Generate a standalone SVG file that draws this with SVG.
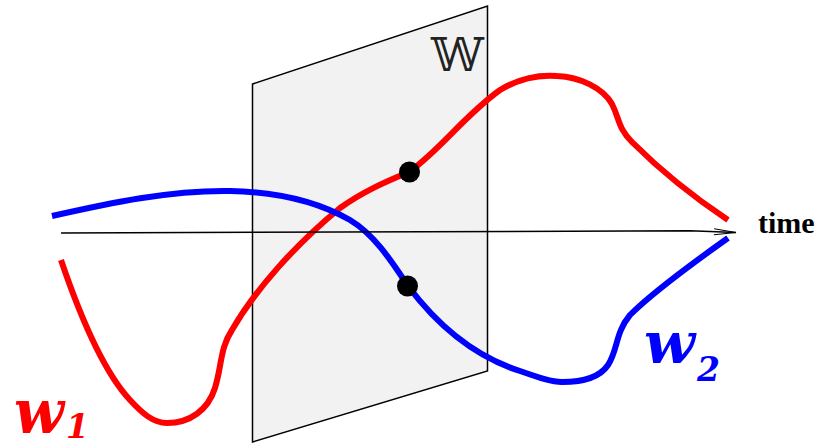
<svg xmlns="http://www.w3.org/2000/svg" width="820" height="446" viewBox="0 0 820 446">
<style>
.curve{fill:none;stroke-width:6;stroke-linecap:butt;stroke-linejoin:round}
.lbl{font-family:"DejaVu Serif","Liberation Serif",serif;font-weight:bold;font-style:italic}
</style>
<defs>
<marker id="arr" markerWidth="30" markerHeight="12" refX="24" refY="6" orient="auto" markerUnits="userSpaceOnUse">
<path d="M2,3 L24,6 L2,9" fill="none" stroke="#000" stroke-width="1"/>
</marker>
</defs>
<rect width="820" height="446" fill="#fff"/>
<g id="plane">
<polygon points="252.5,84 487.5,6 487.5,371 252.5,442" fill="#f2f2f2" stroke="#000" stroke-width="1.5"/>
<text x="431" y="71" font-family="DejaVu Serif, DejaVu Sans, serif" font-size="47" fill="#222">𝕎</text>
</g>
<g id="connectors">
<path id="w1" class="curve" stroke="#ff0000" d="M61,260 C78,310 102,370 130,400 C142,413 153,423 167,423 C190,423 208,410 215,388 C222,365 220,348 232,330 C255,290 295,245 340,208 C365,190 390,180 409,172 C440,150 465,115 500,90 C525,75 545,75 557,76 C580,77 603,88 612,104 C620,120 618,128 632,142 C660,170 695,198 728,220"/>
<path id="w2" class="curve" stroke="#0000ff" d="M52,216 C110,203 170,190 230,191 C280,192 320,203 350,220 C375,235 392,262 408,286 C435,322 470,355 520,371 C540,378 552,382 562,382 C585,382 600,377 608,365 C618,350 615,333 630,315 C650,295 690,265 728,238"/>
<path id="time-axis" d="M61,233 L690,230.8 L736,232.5" fill="none" stroke="#000" stroke-width="1.5" marker-end="url(#arr)"/>
</g>
<g id="point-red"><circle cx="409.5" cy="172" r="10.5" fill="#000"/></g>
<g id="point-blue"><circle cx="407.5" cy="286" r="10.5" fill="#000"/></g>
<g id="label-w1"><text class="lbl" x="14" y="433" font-size="62" fill="#ff0000" textLength="50" lengthAdjust="spacingAndGlyphs">w</text><text class="lbl" x="66" y="438" font-size="33" fill="#ff0000">1</text></g>
<g id="label-w2"><text class="lbl" x="644" y="363" font-size="58" fill="#0000ff" textLength="51" lengthAdjust="spacingAndGlyphs">w</text><text class="lbl" x="697" y="381" font-size="33" fill="#0000ff">2</text></g>
<g id="label-time"><text x="758" y="233" font-family="Liberation Serif, Times New Roman, serif" font-weight="bold" font-size="30" fill="#000">time</text></g>
</svg>
